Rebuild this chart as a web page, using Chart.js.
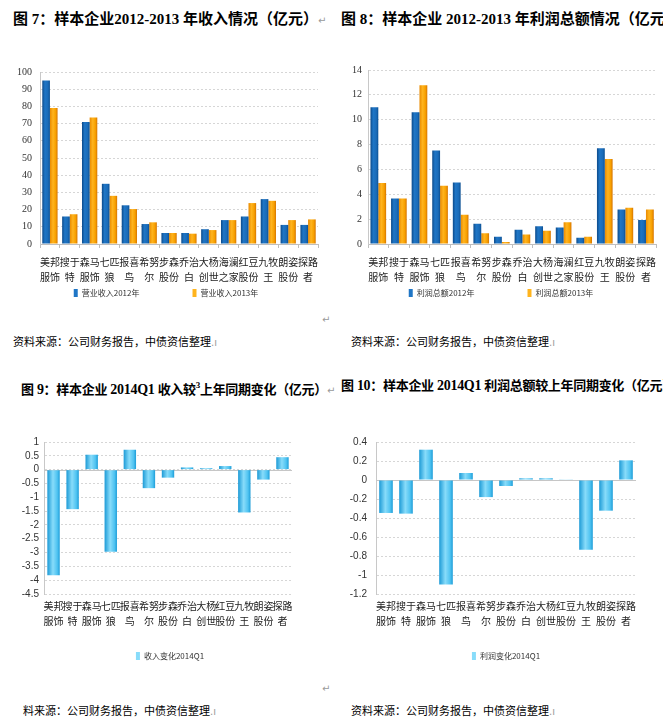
<!DOCTYPE html>
<html>
<head>
<meta charset="utf-8">
<script src="https://cdn.jsdelivr.net/npm/chart.js@4.4.1/dist/chart.umd.min.js"></script>
<style>
  html, body { margin:0; padding:0; background:#fff; }
  body { width:663px; height:726px; position:relative; overflow:hidden; }
  .title { position:absolute; white-space:nowrap; font-family:"Liberation Serif","Noto Sans CJK SC",serif; font-weight:bold; font-size:15px; color:#000; line-height:20px; }
  .title .cn { font-family:"Noto Sans CJK SC",sans-serif; font-weight:bold; font-size:15px; }
  .title.small { font-size:14px; letter-spacing:-0.3px; }
  .title.small .cn { font-size:13px; }
  .src { position:absolute; white-space:nowrap; font-family:"Noto Sans CJK SC",sans-serif; font-size:11px; color:#000; line-height:14px; }
  .mark { color:#9a9a9a; font-weight:normal; font-size:10px; font-family:"DejaVu Sans",sans-serif; letter-spacing:0; }
  .box { position:absolute; }
  sup { font-size:9px; }
</style>
</head>
<body>
<div class="title" style="left:13px; top:8px;"><span class="cn">图</span> 7<span class="cn">：样本企业</span>2012-2013 <span class="cn">年收入情况（亿元）</span><span class="mark">↵</span></div>
<div class="title" style="left:341px; top:8px;"><span class="cn">图</span> 8<span class="cn">：样本企业</span> 2012-2013 <span class="cn">年利润总额情况（亿元）</span></div>
<div class="title small" style="left:21px; top:375px;"><span class="cn">图</span> 9<span class="cn">：样本企业</span> 2014Q1 <span class="cn">收入较</span><sup>3</sup><span class="cn">上年同期变化（亿元）</span><span class="mark">↵</span></div>
<div class="title small" style="left:341px; top:375px;"><span class="cn">图</span> 10<span class="cn">：样本企业</span> 2014Q1 <span class="cn">利润总额较上年同期变化（亿元）</span></div>

<div class="box" style="left:0px; top:58px; width:330px; height:252px;"><canvas id="c7"></canvas></div>
<div class="box" style="left:330px; top:58px; width:333px; height:252px;"><canvas id="c8"></canvas></div>
<div class="box" style="left:0px; top:425px; width:330px; height:250px;"><canvas id="c9"></canvas></div>
<div class="box" style="left:330px; top:425px; width:333px; height:250px;"><canvas id="c10"></canvas></div>

<div class="src" style="left:322px; top:311px;"><span class="mark">↵</span></div>
<div class="src" style="left:322px; top:680px;"><span class="mark">↵</span></div>
<div class="src" style="left:13px; top:334px;">资料来源：公司财务报告，中债资信整理<span class="mark">.ı</span></div>
<div class="src" style="left:351px; top:334px;">资料来源：公司财务报告，中债资信整理<span class="mark">.ı</span></div>
<div class="src" style="left:23px; top:703px;">料来源：公司财务报告，中债资信整理<span class="mark">.ı</span></div>
<div class="src" style="left:351px; top:703px;">资料来源：公司财务报告，中债资信整理<span class="mark">.ı</span></div>

<script>
// ---- data ----
const companies14 = [['美邦','服饰'],['搜于','特'],['森马','服饰'],['七匹','狼'],['报喜','鸟'],['希努','尔'],['步森','股份'],['乔治','白'],['大杨','创世'],['海澜','之家'],['红豆','股份'],['九牧','王'],['朗姿','股份'],['探路','者']];
const companies13 = [['美邦','服饰'],['搜于','特'],['森马','服饰'],['七匹','狼'],['报喜','鸟'],['希努','尔'],['步森','股份'],['乔治','白'],['大杨','创世'],['红豆','股份'],['九牧','王'],['朗姿','股份'],['探路','者']];

const revenue2012 = [95, 16, 71, 35, 22.5, 11.6, 6.4, 6.4, 8.6, 13.9, 16, 26.1, 11.1, 11.1];
const revenue2013 = [79, 17.3, 73.5, 28, 20.3, 12.6, 6.4, 6.0, 8.1, 13.9, 23.8, 25.1, 13.9, 14.3];
const profit2012 = [11.0, 3.66, 10.6, 7.52, 4.95, 1.62, 0.58, 1.14, 1.43, 1.32, 0.5, 7.71, 2.78, 1.93];
const profit2013 = [4.9, 3.66, 12.77, 4.69, 2.36, 0.87, 0.16, 0.77, 1.06, 1.75, 0.58, 6.83, 2.91, 2.78];
const revenueChange = [-3.82, -1.43, 0.54, -2.97, 0.72, -0.67, -0.29, 0.08, 0.05, 0.13, -1.55, -0.36, 0.45];
const profitChange = [-0.347, -0.354, 0.319, -1.10, 0.074, -0.18, -0.063, 0.018, 0.018, 0.007, -0.733, -0.323, 0.207];

const legendRevenue = ['营业收入2012年', '营业收入2013年'];
const legendProfit = ['利润总额2012年', '利润总额2013年'];
const legendRevChange = '收入变化2014Q1';
const legendProfitChange = '利润变化2014Q1';

// ---- styles ----
const BLUE = [[0,'#0c4a8a'],[0.35,'#1f76c6'],[0.75,'#1a6bb8'],[1,'#0b4f92']];
const ORANGE = [[0,'#e98a00'],[0.4,'#ffb41e'],[0.75,'#f7a000'],[1,'#d67400']];
const SKY = [[0,'#1c9ad6'],[0.45,'#88dcfa'],[0.8,'#4fc3f1'],[1,'#1d9dd8']];

const gradientPlugin = {
  id: 'barGradient',
  beforeDatasetsDraw(chart) {
    const ctx = chart.ctx;
    chart.data.datasets.forEach((ds, di) => {
      const meta = chart.getDatasetMeta(di);
      if (!ds.gradStops) return;
      meta.data.forEach(el => {
        const p = el.getProps(['x','width'], true);
        const g = ctx.createLinearGradient(p.x - p.width/2, 0, p.x + p.width/2, 0);
        ds.gradStops.forEach(s => g.addColorStop(s[0], s[1]));
        el.options.backgroundColor = g;
      });
    });
  }
};
const zeroLinePlugin = {
  id: 'zeroLine',
  beforeDatasetsDraw(chart, args, opts) {
    if (!opts || !opts.show) return;
    const {ctx, chartArea} = chart;
    const y = Math.round(chart.scales.y.getPixelForValue(0)) + 0.5;
    ctx.save();
    ctx.strokeStyle = '#c6c6c6';
    ctx.lineWidth = 1;
    ctx.beginPath();
    ctx.moveTo(chartArea.left, y);
    ctx.lineTo(chartArea.right, y);
    ctx.stroke();
    ctx.restore();
  }
};

function fmt(v) { return String(Math.round(v * 10) / 10); }

function makeChart(id, cfg) {
  const datasets = cfg.series.map(s => ({
    label: s.label, data: s.data, gradStops: s.grad,
    backgroundColor: () => s.grad[1][1], borderWidth: 0,
    categoryPercentage: cfg.catPct, barPercentage: 1.0
  }));
  return new Chart(document.getElementById(id), {
    type: 'bar',
    data: { labels: cfg.labels, datasets },
    plugins: [gradientPlugin, zeroLinePlugin],
    options: {
      responsive: true, maintainAspectRatio: false, animation: false,
      layout: { padding: cfg.padding },
      plugins: {
        tooltip: { enabled: false },
        zeroLine: { show: cfg.zeroLine },
        legend: {
          position: 'bottom',
          labels: {
            boxWidth: 4, boxHeight: 8, padding: cfg.legendPad,
            color: '#333',
            font: { family: '"Noto Sans CJK SC", sans-serif', size: 8 },
            generateLabels(chart) {
              const items = Chart.defaults.plugins.legend.labels.generateLabels(chart);
              items.forEach((it, i) => {
                const ds = chart.data.datasets[i];
                it.fillStyle = ds.gradStops[1][1];
                if (i < items.length - 1) it.text = it.text + '\u2003'.repeat(cfg.legendGap || 0);
              });
              return items;
            }
          }
        }
      },
      scales: {
        x: {
          grid: { display: true, drawOnChartArea: false, drawTicks: cfg.xTicks, tickLength: 4, color: '#bfbfbf', offset: true },
          border: { display: !cfg.zeroLine, color: '#bfbfbf' },
          ticks: {
            autoSkip: false, maxRotation: 0, minRotation: 0, padding: cfg.xPad, color: '#222',
            font: { family: '"Noto Sans CJK SC", sans-serif', size: 10, lineHeight: 1.5 }
          },
          afterFit(s) { s.height = cfg.xHeight; }
        },
        y: {
          min: cfg.min, max: cfg.max,
          ticks: { stepSize: cfg.step, autoSkip: false, padding: cfg.yPad, color: '#333', callback: fmt,
                   font: { family: cfg.yFont, size: 10 } },
          grid: { color: '#d6d6d6', drawTicks: false, lineWidth: 1 },
          border: { display: true, color: '#c8c8c8', dash: [2, 2] },
          afterFit(s) { s.width = cfg.yWidth; }
        },
        gap: {
          type: 'linear', position: 'right', display: cfg.rightGap > 0,
          grid: { display: false }, border: { display: false }, ticks: { display: false },
          afterFit(s) { s.width = cfg.rightGap; }
        }
      }
    }
  });
}

makeChart('c7', {
  labels: companies14, catPct: 0.77,
  series: [{label: legendRevenue[0], data: revenue2012, grad: BLUE}, {label: legendRevenue[1], data: revenue2013, grad: ORANGE}],
  min: 0, max: 100, step: 10, yWidth: 38, yPad: 8, yFont: '"Liberation Serif", serif',
  padding: {top: 10, right: 0, left: 2, bottom: 3}, rightGap: 12,
  xHeight: 40, xPad: 7, xTicks: true, legendPad: 5, legendGap: 6, zeroLine: false
});
makeChart('c8', {
  labels: companies14, catPct: 0.76,
  series: [{label: legendProfit[0], data: profit2012, grad: BLUE}, {label: legendProfit[1], data: profit2013, grad: ORANGE}],
  min: 0, max: 14, step: 2, yWidth: 28, yPad: 6, yFont: '"Liberation Serif", serif',
  padding: {top: 10, right: 1, left: 10, bottom: 3}, rightGap: 0,
  xHeight: 40, xPad: 7, xTicks: true, legendPad: 5, legendGap: 6, zeroLine: false
});
makeChart('c9', {
  labels: companies13, catPct: 0.65,
  series: [{label: legendRevChange, data: revenueChange, grad: SKY}],
  min: -4.5, max: 1, step: 0.5, yWidth: 34, yPad: 5, yFont: '"Liberation Sans", sans-serif',
  padding: {top: 17, right: 0, left: 10, bottom: 5}, rightGap: 38,
  xHeight: 48, xPad: 5, xTicks: false, legendPad: 10, zeroLine: true
});
makeChart('c10', {
  labels: companies13, catPct: 0.68,
  series: [{label: legendProfitChange, data: profitChange, grad: SKY}],
  min: -1.2, max: 0.4, step: 0.2, yWidth: 27, yPad: 9, yFont: '"Liberation Sans", sans-serif',
  padding: {top: 17, right: 0, left: 19, bottom: 5}, rightGap: 27,
  xHeight: 48, xPad: 5, xTicks: false, legendPad: 10, zeroLine: true
});
</script>
</body>
</html>
